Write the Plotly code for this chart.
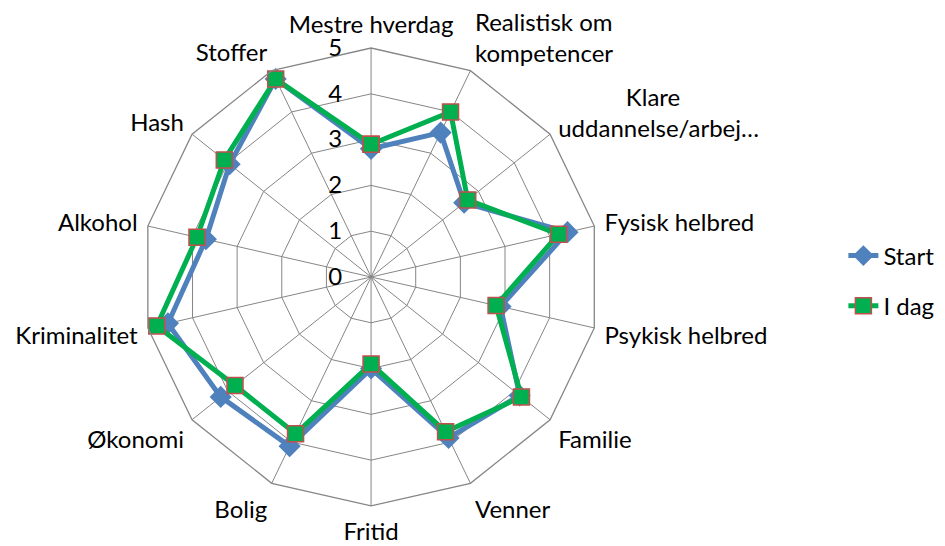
import plotly.graph_objects as go

categories = ["Mestre hverdag", "Realistisk om kompetencer", "Klare uddannelse/arbej…",
              "Fysisk helbred", "Psykisk helbred", "Familie", "Venner", "Fritid", "Bolig",
              "Økonomi", "Kriminalitet", "Alkohol", "Hash", "Stoffer"]
tick_labels = ["Mestre hverdag", "Realistisk om<br>kompetencer",
               "\u00a0" * 11 + "Klare<br>uddannelse/arbej…",
               "Fysisk helbred", "Psykisk helbred", "Familie", "Venner", "Fritid", "Bolig",
               "Økonomi", "Kriminalitet", "Alkohol", "Hash", "Stoffer"]
start_vals = [2.8, 3.5, 2.6, 4.4, 2.9, 4.15, 3.9, 2.0, 4.1, 4.2, 4.55, 3.7, 3.95, 4.8]
idag_vals = [2.9, 4.0, 2.7, 4.2, 2.8, 4.2, 3.75, 1.9, 3.8, 3.8, 4.8, 3.9, 4.1, 4.8]
radial_ticks = [0, 1, 2, 3, 4, 5]

FONT = "Lato, Carlito, Calibri, sans-serif"
FS = 24

fig = go.Figure()
fig.add_trace(go.Scatterpolar(
    r=start_vals + start_vals[:1], theta=categories + categories[:1], name="Start",
    mode="lines+markers", legendgroup="a",
    line=dict(color="#4F81BD", width=5),
    marker=dict(symbol="diamond", size=17, color="#4F81BD"),
))
fig.add_trace(go.Scatterpolar(
    r=idag_vals + idag_vals[:1], theta=categories + categories[:1], name="I dag",
    mode="lines+markers", legendgroup="b",
    line=dict(color="#00B050", width=5),
    marker=dict(symbol="square", size=16, color="#00B050", line=dict(color="#C0504D", width=1.5)),
))

fig.update_layout(
    width=945, height=546,
    margin=dict(l=0, r=0, t=0, b=0),
    paper_bgcolor="white", plot_bgcolor="white",
    font=dict(family=FONT, size=FS, color="black"),
    polar=dict(
        domain=dict(x=[0.1417, 0.6267], y=[0.088, 0.9267]),
        gridshape="linear",
        bgcolor="white",
        angularaxis=dict(direction="clockwise", rotation=90, showgrid=True,
                         gridcolor="#868686", gridwidth=1.3, linecolor="#868686", linewidth=1.3,
                         tickmode="array", tickvals=categories, ticktext=tick_labels,
                         ticks="outside", ticklen=5, tickcolor="rgba(0,0,0,0)",
                         tickfont=dict(size=FS)),
        radialaxis=dict(range=[0, 5], tickvals=radial_ticks, angle=90, tickangle=90,
                        side="counterclockwise",
                        showline=False, gridcolor="#868686", gridwidth=1.3,
                        ticks="outside", ticklen=20, tickcolor="rgba(0,0,0,0)",
                        tickfont=dict(size=FS)),
    ),
    legend=dict(x=0.884, y=0.5, xanchor="left", yanchor="middle", font=dict(size=FS),
                traceorder="grouped", tracegroupgap=16),
)
fig.write_html("out.html")
